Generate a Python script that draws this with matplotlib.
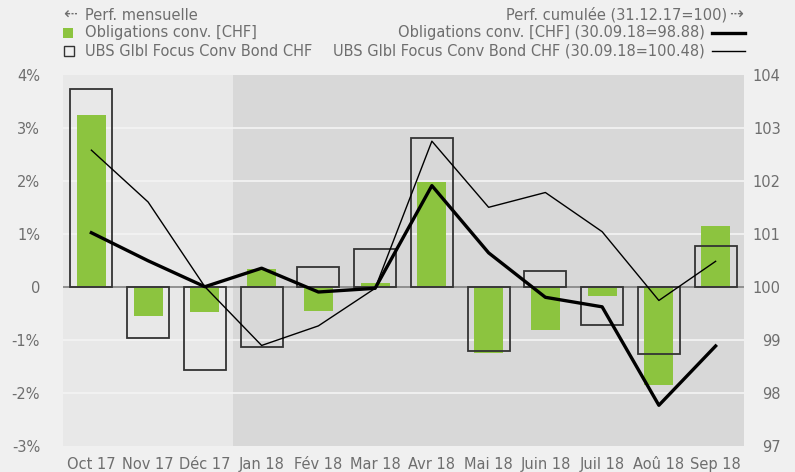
import matplotlib
matplotlib.use("Agg")
import matplotlib.pyplot as plt
from matplotlib.patches import Rectangle
from matplotlib.lines import Line2D

months = ["Oct 17", "Nov 17", "Déc 17", "Jan 18", "Fév 18", "Mar 18",
          "Avr 18", "Mai 18", "Juin 18", "Juil 18", "Aoû 18", "Sep 18"]
oblig_monthly = [3.25, -0.55, -0.47, 0.34, -0.45, 0.07, 1.97, -1.25, -0.82, -0.18, -1.86, 1.15]
ubs_monthly = [3.74, -0.97, -1.57, -1.13, 0.38, 0.72, 2.81, -1.22, 0.29, -0.72, -1.28, 0.76]
oblig_cum = [101.02, 100.49, 100.0, 100.35, 99.90, 99.97, 101.91, 100.64, 99.80, 99.62, 97.76, 98.88]
ubs_cum = [102.58, 101.60, 100.0, 98.89, 99.26, 99.97, 102.75, 101.50, 101.78, 101.04, 99.74, 100.48]
left_ticks = [-3, -2, -1, 0, 1, 2, 3, 4]
left_labels = ["-3%", "-2%", "-1%", "0", "1%", "2%", "3%", "4%"]
right_ticks = [97, 98, 99, 100, 101, 102, 103, 104]

GREEN = "#8cc43f"
TXT = "#6e6e6e"

fig = plt.figure(figsize=(7.95, 4.72), dpi=100, facecolor="#f0f0f0")
ax = fig.add_axes([63/795, 1-445.5/472, (744-63)/795, (445.5-75)/472])
ax.set_facecolor("#f0f0f0")
x = list(range(len(months)))

ax.axvspan(-0.5, 2.5, color="#e8e8e8", zorder=0, lw=0)
ax.axvspan(2.5, 11.5, color="#d8d8d8", zorder=0, lw=0)
for t in left_ticks:
    if t not in (0, -3, 4):
        ax.axhline(t, color="#f2f2f2", lw=1.3, zorder=1)

ax.bar(x, oblig_monthly, width=0.51, color=GREEN, zorder=2, lw=0)
ax.bar(x, ubs_monthly, width=0.74, facecolor="none", edgecolor="#333333", lw=1.3, zorder=3)
ax.axhline(0, color="#8a8a8a", lw=1.3, zorder=2.5)

ax.set_xlim(-0.5, 11.5)
ax.set_ylim(-3, 4)
ax.set_yticks(left_ticks)
ax.set_yticklabels(left_labels)
ax.set_xticks(x)
ax.set_xticklabels(months)
for s in ax.spines.values():
    s.set_visible(False)
ax.tick_params(axis="both", length=0, colors=TXT, labelsize=10.5)
ax.tick_params(axis="y", pad=16.5)
ax.tick_params(axis="x", pad=8)

ax2 = ax.twinx()
ax2.plot(x, ubs_cum, color="black", lw=1.0, zorder=4)
ax2.plot(x, oblig_cum, color="black", lw=2.4, zorder=5)
ax2.set_ylim(97, 104)
ax2.set_yticks(right_ticks)
for s in ax2.spines.values():
    s.set_visible(False)
ax2.tick_params(axis="y", length=0, colors=TXT, labelsize=10.5, pad=26.5)
for lab in ax2.get_yticklabels():
    lab.set_horizontalalignment("right")

# legend
fs = 10.5
fig.text(63/795, 1-15/472, "⇠", color=TXT, fontsize=12, va="center", ha="left")
fig.text(85/795, 1-15/472, "Perf. mensuelle", color=TXT, fontsize=fs, va="center", ha="left")
fig.patches.append(Rectangle((63/795, 1-38/472), 10/795, 10/472, transform=fig.transFigure,
                             facecolor=GREEN, edgecolor="none"))
fig.text(85/795, 1-33/472, "Obligations conv. [CHF]", color=TXT, fontsize=fs, va="center", ha="left")
fig.patches.append(Rectangle((63.5/795, 1-56/472), 10/795, 10/472, transform=fig.transFigure,
                             facecolor="none", edgecolor="#333333", lw=1.0))
fig.text(85/795, 1-51/472, "UBS Glbl Focus Conv Bond CHF", color=TXT, fontsize=fs, va="center", ha="left")

fig.text(727/795, 1-15/472, "Perf. cumulée (31.12.17=100)", color=TXT, fontsize=fs, va="center", ha="right")
fig.text(729/795, 1-15/472, "⇢", color=TXT, fontsize=12, va="center", ha="left")
fig.text(705/795, 1-33/472, "Obligations conv. [CHF] (30.09.18=98.88)", color=TXT, fontsize=fs, va="center", ha="right")
fig.lines.append(Line2D([712/795, 745/795], [1-33/472, 1-33/472], transform=fig.transFigure, color="black", lw=2.4))
fig.text(705/795, 1-51/472, "UBS Glbl Focus Conv Bond CHF (30.09.18=100.48)", color=TXT, fontsize=fs, va="center", ha="right")
fig.lines.append(Line2D([712/795, 745/795], [1-51/472, 1-51/472], transform=fig.transFigure, color="black", lw=1.0))

fig.savefig("out.png", dpi=100, facecolor=fig.get_facecolor())
